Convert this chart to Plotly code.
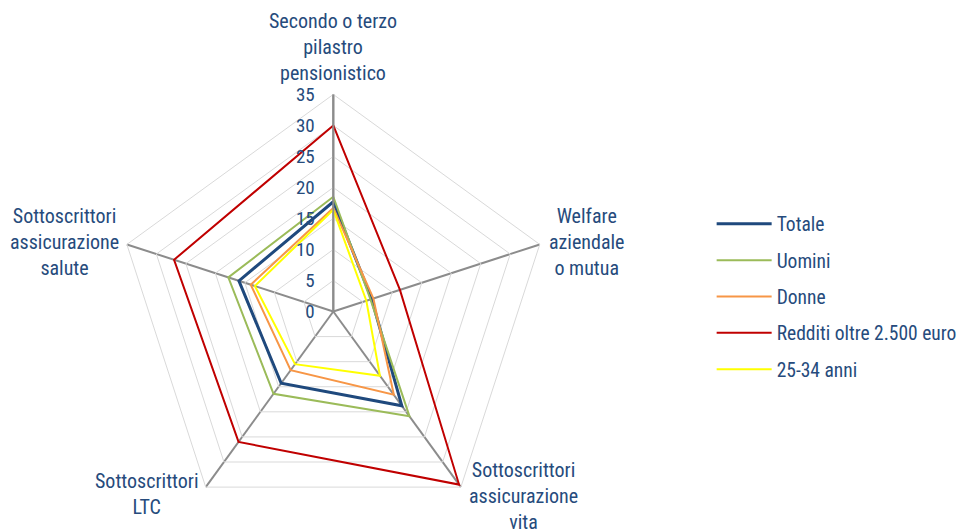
import math
import plotly.graph_objects as go

categories = [
    "Secondo o terzo pilastro pensionistico",
    "Welfare aziendale o mutua",
    "Sottoscrittori assicurazione vita",
    "Sottoscrittori LTC",
    "Sottoscrittori assicurazione salute",
]
category_labels = [
    "Secondo o terzo<br>pilastro<br>pensionistico",
    "Welfare<br>aziendale<br>o mutua",
    "Sottoscrittori<br>assicurazione<br>vita",
    "Sottoscrittori<br>LTC",
    "Sottoscrittori<br>assicurazione<br>salute",
]

series_names = ["Totale", "Uomini", "Donne", "Redditi oltre 2.500 euro", "25-34 anni"]
totale = [17.7, 6.5, 18.8, 14.3, 16.0]
uomini = [18.5, 6.3, 20.9, 16.4, 17.8]
donne = [16.7, 6.8, 16.6, 11.7, 14.0]
redditi = [30.0, 11.3, 34.5, 26.0, 27.0]
giovani = [16.4, 5.6, 12.8, 10.5, 13.3]

radial_ticks = [0, 5, 10, 15, 20, 25, 30, 35]

colors = ["#1F497D", "#9BBB59", "#F79646", "#C00000", "#FFFF00"]
widths = [3, 2, 2, 2, 2]
values = [totale, uomini, donne, redditi, giovani]

W, H = 962, 529
FONT = "Liberation Sans Narrow, Arial Narrow, Roboto Condensed, Liberation Sans, sans-serif"
TXT = "#264B7C"

# polar geometry (pixels)
CX, CY, R = 334.0, 311.5, 217.5
dom_x = [(CX - R) / W, (CX + R) / W]
dom_y = [1 - (CY + R) / H, 1 - (CY - R) / H]
dom_y[0] = max(dom_y[0], 0.0)

fig = go.Figure()
for i, (name, vals) in enumerate(zip(series_names, values)):
    fig.add_trace(go.Scatterpolar(
        r=vals + vals[:1],
        theta=categories + categories[:1],
        mode="lines",
        name=name,
        line=dict(color=colors[i], width=widths[i]),
        legendgroup=str(i),
    ))

# category labels placed next to the pentagon vertices
label_cfg = [
    # (xanchor, yanchor, dx, dy)
    ("center", "middle", 0, -47),
    ("left", "middle", 7, -2),
    ("left", "middle", 6, 9),
    ("right", "middle", -5, 7),
    ("right", "middle", -6, -2),
]
annotations = []
for k, lab in enumerate(category_labels):
    ang = math.radians(90 - 72 * k)
    vx = CX + R * math.cos(ang)
    vy = CY - R * math.sin(ang)
    xa, ya, dx, dy = label_cfg[k]
    annotations.append(dict(
        x=(vx + dx) / W, y=1 - (vy + dy) / H, xref="paper", yref="paper",
        text=lab, showarrow=False, xanchor=xa, yanchor=ya, align="center",
        font=dict(size=20, color=TXT, family=FONT),
    ))

fig.update_layout(
    width=W, height=H,
    margin=dict(l=0, r=0, t=0, b=0),
    paper_bgcolor="white",
    font=dict(family=FONT, color=TXT, size=19),
    annotations=annotations,
    polar=dict(
        domain=dict(x=dom_x, y=dom_y),
        bgcolor="white",
        gridshape="linear",
        angularaxis=dict(
            rotation=90, direction="clockwise",
            gridcolor="#8C8C8C", gridwidth=2,
            linecolor="#D9D9D9", linewidth=1,
            showline=True, ticks="", showticklabels=False,
        ),
        radialaxis=dict(
            range=[0, 35], tickvals=radial_ticks, ticktext=[str(v) for v in radial_ticks],
            angle=90, side="counterclockwise",
            showline=True, linecolor="#8C8C8C", linewidth=2,
            gridcolor="#D9D9D9", gridwidth=1,
            ticks="outside", ticklen=11, tickcolor="rgba(0,0,0,0)", tickangle=90,
            tickfont=dict(size=19, color=TXT, family=FONT),
        ),
    ),
    legend=dict(
        x=0.7413, y=0.4393, xanchor="left", yanchor="middle",
        font=dict(size=19.5, color=TXT, family=FONT),
        tracegroupgap=8, itemwidth=55,
        bgcolor="rgba(0,0,0,0)",
    ),
)

fig.write_html("out.html", config={"displayModeBar": False},
               post_script="document.body.style.margin='0';")
